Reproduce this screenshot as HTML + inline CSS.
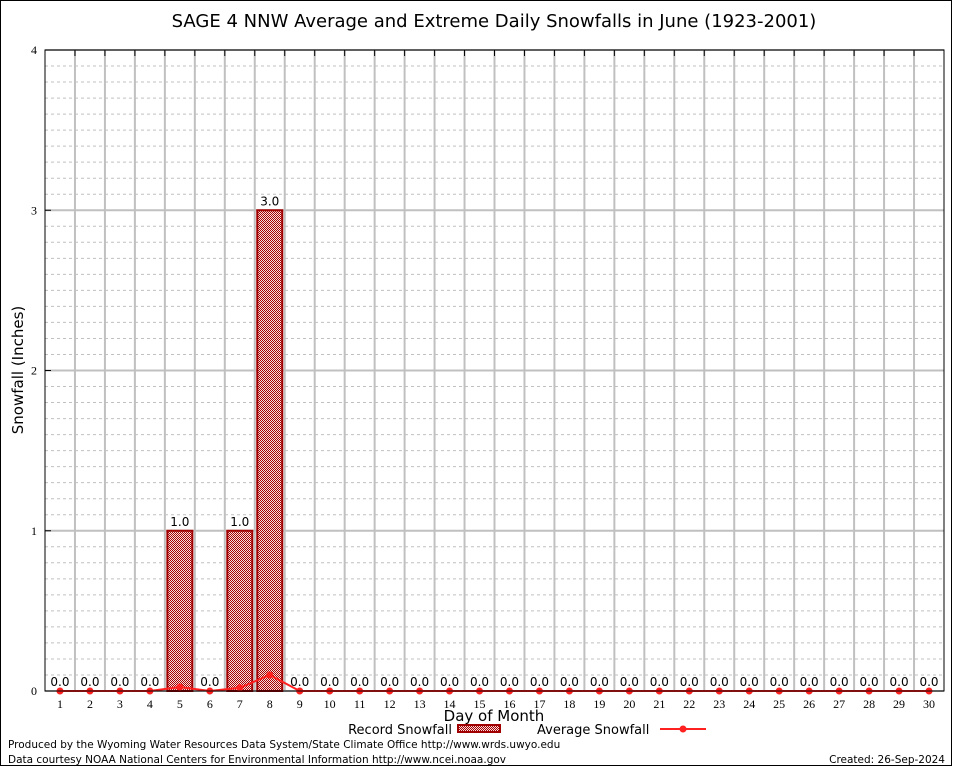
<!DOCTYPE html>
<html><head><meta charset="utf-8"><style>
html,body{margin:0;padding:0;background:#fff;}
svg{display:block;font-family:"DejaVu Sans","Liberation Sans",sans-serif;}
</style></head><body>
<svg id="chart" width="954" height="768" viewBox="0 0 954 768" xmlns="http://www.w3.org/2000/svg">
<defs>
<pattern id="hatch" width="2" height="2" patternUnits="userSpaceOnUse">
<rect width="2" height="2" fill="#f4dede"/>
<rect width="1" height="1" fill="#a80000"/>
<rect x="1" y="1" width="1" height="1" fill="#a80000"/>
</pattern>
</defs>
<rect x="0.5" y="0.5" width="951" height="765" fill="#fff" stroke="#000"/>
<text x="494" y="27" font-size="18" text-anchor="middle" fill="#000">SAGE 4 NNW Average and Extreme Daily Snowfalls in June (1923-2001)</text>
<g id="grid"></g>
<g id="bars"></g>
<g id="avg"></g>
<g id="axes"></g>
<text transform="translate(23,370) rotate(-90)" font-size="15" text-anchor="middle">Snowfall (Inches)</text>
<text x="494" y="721" font-size="15" text-anchor="middle">Day of Month</text>
<g>
<text x="452" y="734" font-size="13" text-anchor="end">Record Snowfall</text>
<rect x="458" y="725" width="42" height="7" fill="url(#hatch)" stroke="#a00000" stroke-width="2"/>
<text x="537" y="734" font-size="13">Average Snowfall</text>
<line x1="660" y1="729" x2="706" y2="729" stroke="#ff2020" stroke-width="2"/>
<circle cx="683" cy="729" r="3.5" fill="#ff2020"/>
</g>
<text x="8" y="748" font-size="10.5">Produced by the Wyoming Water Resources Data System/State Climate Office http://www.wrds.uwyo.edu</text>
<text x="8" y="763" font-size="10.5">Data courtesy NOAA National Centers for Environmental Information http://www.ncei.noaa.gov</text>
<text x="945" y="763" font-size="10.5" text-anchor="end">Created: 26-Sep-2024</text>
</svg>
<script>
const days = [1,2,3,4,5,6,7,8,9,10,11,12,13,14,15,16,17,18,19,20,21,22,23,24,25,26,27,28,29,30];
const recordSnow = [0,0,0,0,1.0,0,1.0,3.0,0,0,0,0,0,0,0,0,0,0,0,0,0,0,0,0,0,0,0,0,0,0];
const avgSnow = [0,0,0,0,0.025,0,0.02,0.1,0,0,0,0,0,0,0,0,0,0,0,0,0,0,0,0,0,0,0,0,0,0];
const yTicks = [0,1,2,3,4];
const yMinor = [0.1,0.2,0.3,0.4,0.5,0.6,0.7,0.8,0.9];

const NS='http://www.w3.org/2000/svg';
const L=45,R=944,T=50,B=691,yMax=4;
const slot=(R-L)/days.length;
const xs=d=>L+(d-0.5)*slot;
const ys=v=>B-(v/yMax)*(B-T);
function mk(tag,attrs,parent,txt){const e=document.createElementNS(NS,tag);for(const k in attrs)e.setAttribute(k,attrs[k]);if(txt!==undefined)e.textContent=txt;parent.appendChild(e);return e;}
const grid=document.getElementById('grid'),bars=document.getElementById('bars'),avg=document.getElementById('avg'),axes=document.getElementById('axes');

yTicks.forEach(t=>{
  if(t<yMax) yMinor.forEach(m=>{
    const l=mk('line',{x1:L,x2:R,y1:ys(t+m),y2:ys(t+m),stroke:'#c0c0c0','stroke-dasharray':'3,3'},grid);
    
    
  });
  const g=mk('line',{x1:L,x2:R,y1:ys(t),y2:ys(t),stroke:'#c0c0c0','stroke-width':2},grid);
  
  
});
for(let i=1;i<days.length;i++){
  const x=L+i*slot;
  const g=mk('line',{x1:x,x2:x,y1:T,y2:B,stroke:'#c0c0c0','stroke-width':2},grid);
  
  
  const tk=mk('line',{x1:x,x2:x,y1:T,y2:T+6,stroke:'#000'},axes);
  
  
}

days.forEach((d,i)=>{
  const v=recordSnow[i];
  if(v>0){
    const r=mk('rect',{x:xs(d)-12.5,y:ys(v),width:25,height:B-ys(v),fill:'url(#hatch)',stroke:'#a00000','stroke-width':2},bars);
    
    
  }
  const t=mk('text',{x:xs(d),y:ys(v)-5,'font-size':12,'text-anchor':'middle'},bars,v.toFixed(1));
  
  
});

const pts=days.map((d,i)=>xs(d)+','+ys(avgSnow[i])).join(' ');
const pl=mk('polyline',{points:pts,fill:'none',stroke:'#ff2020','stroke-width':2},avg);


days.forEach((d,i)=>{
  const c=mk('circle',{cx:xs(d),cy:ys(avgSnow[i]),r:3.5,fill:'#ff2020'},avg);
  
  
});

const frame=mk('rect',{x:L,y:T,width:R-L,height:B-T,fill:'none',stroke:'#000'},axes);


yTicks.forEach(t=>{
  const tk=mk('line',{x1:L,x2:L+6,y1:ys(t),y2:ys(t),stroke:'#000'},axes);
  
  
  const lb=mk('text',{x:L-8,y:ys(t)+4,'font-size':12,'text-anchor':'end','font-family':'Liberation Serif, serif'},axes,String(t));
  
  
});
days.forEach(d=>{
  const lb=mk('text',{x:xs(d),y:708,'font-size':12,'text-anchor':'middle','font-family':'Liberation Serif, serif'},axes,String(d));
  
  
});
</script>
</body></html>
